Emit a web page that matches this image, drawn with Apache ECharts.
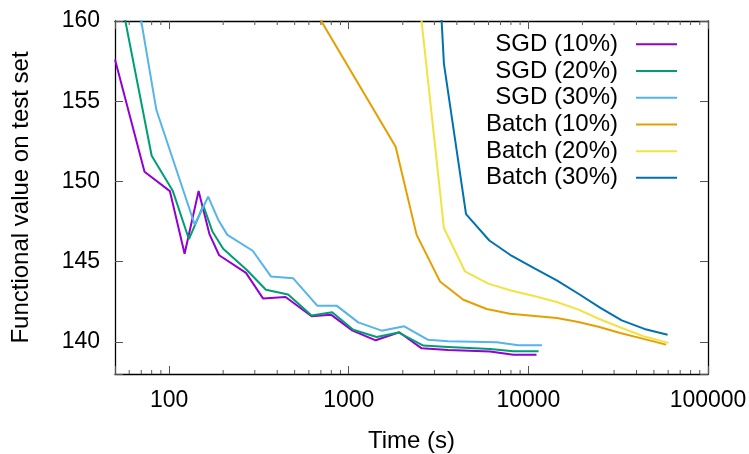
<!DOCTYPE html>
<html>
<head>
<meta charset="utf-8">
<script src="https://cdn.jsdelivr.net/npm/echarts@6/dist/echarts.min.js"></script>
<style>
html,body{margin:0;padding:0;background:#fff;}
#chart{width:749px;height:454px;}
</style>
</head>
<body>
<div id="chart"></div>
<script>
// ---- data (time in seconds, functional value) ----
const seriesNames = ['SGD (10%)', 'SGD (20%)', 'SGD (30%)', 'Batch (10%)', 'Batch (20%)', 'Batch (30%)'];
const seriesColors = ['#9400d3', '#009e73', '#56b4e9', '#e69f00', '#f0e442', '#0072b2'];

const sgd10T = [50, 73, 101, 122, 146, 168, 190, 268, 334, 445, 621, 796, 1051, 1413, 1911, 2547, 3581, 6117, 8250, 11100];
const sgd10V = [157.6, 150.6, 149.4, 145.5, 149.4, 146.7, 145.4, 144.3, 142.7, 142.8, 141.6, 141.7, 140.7, 140.1, 140.6, 139.6, 139.5, 139.4, 139.2, 139.2];

const sgd20T = [50, 80, 105, 129, 155, 174, 200, 270, 346, 460, 621, 809, 1059, 1430, 1900, 2600, 3581, 6117, 8250, 11400];
const sgd20V = [163.3, 151.6, 149.4, 146.4, 148.5, 146.9, 145.8, 144.5, 143.25, 142.95, 141.65, 141.85, 140.76, 140.31, 140.58, 139.77, 139.69, 139.56, 139.42, 139.42];

const sgd30T = [50, 85, 139, 165, 188, 211, 292, 369, 491, 668, 856, 1130, 1525, 2037, 2752, 3581, 6670, 8790, 11900];
const sgd30V = [169.6, 154.45, 147.3, 149.05, 147.6, 146.67, 145.68, 144.08, 143.96, 142.26, 142.26, 141.22, 140.7, 140.97, 140.14, 140.04, 139.98, 139.79, 139.79];

const batch10T = [600, 1825, 2388, 3221, 4345, 5865, 7907, 14390, 19000, 24860, 32430, 43750, 58490];
const batch10V = [161.3, 152.16, 146.67, 143.77, 142.63, 142.05, 141.76, 141.49, 141.24, 140.93, 140.56, 140.19, 139.83];

const batch20T = [2450, 3388, 4436, 5985, 8080, 10900, 14390, 19000, 24860, 33110, 43750, 60250];
const batch20V = [161.7, 147.1, 144.4, 143.63, 143.19, 142.84, 142.49, 142.01, 141.43, 140.87, 140.35, 139.94];

const batch30T = [3250, 3388, 4498, 6064, 7907, 10760, 14390, 19000, 25310, 33110, 44260, 59570];
const batch30V = [161.1, 157.35, 147.96, 146.32, 145.43, 144.6, 143.83, 143.0, 142.11, 141.34, 140.81, 140.45];

const allT = [sgd10T, sgd20T, sgd30T, batch10T, batch20T, batch30T];
const allV = [sgd10V, sgd20V, sgd30V, batch10V, batch20V, batch30V];

// axis ranges / ticks
const xMin = 50, xMax = 100000;
const yMin = 138, yMax = 160;
const minorTickFactors = [2, 3, 4, 5, 6, 7, 8, 9];
const decades = [10, 100, 1000, 10000];

const minorTicks = [];
decades.forEach(d => minorTickFactors.forEach(f => { const v = d * f; if (v > xMin && v < xMax) minorTicks.push(v); }));

const FONT = '"Liberation Sans", Arial, sans-serif';
const tickColor = '#555';

const isPow10 = v => Math.abs(Math.log10(v) - Math.round(Math.log10(v))) < 1e-6;

const lineSeries = seriesNames.map((name, i) => ({
  name: name,
  type: 'line',
  xAxisIndex: 0,
  yAxisIndex: 0,
  data: allT[i].map((t, k) => [t, allV[i][k]]),
  showSymbol: false,
  symbol: 'none',
  lineStyle: { color: seriesColors[i], width: 2 },
  itemStyle: { color: seriesColors[i] },
  clip: true,
  animation: false,
  z: 3
}));

const minorSeries = {
  type: 'custom',
  xAxisIndex: 0,
  yAxisIndex: 0,
  silent: true,
  clip: false,
  animation: false,
  data: minorTicks.map(v => [v, yMin]),
  renderItem: function (params, api) {
    const pb = api.coord([api.value(0), yMin]);
    const pt = api.coord([api.value(0), yMax]);
    return {
      type: 'group',
      children: [
        { type: 'line', shape: { x1: pb[0], y1: pb[1], x2: pb[0], y2: pb[1] - 4 }, style: { stroke: tickColor, lineWidth: 1 } },
        { type: 'line', shape: { x1: pt[0], y1: pt[1], x2: pt[0], y2: pt[1] + 4 }, style: { stroke: tickColor, lineWidth: 1 } }
      ]
    };
  },
  z: 2
};

const xAxisBase = {
  type: 'log',
  logBase: 10,
  min: xMin,
  max: xMax,
  gridIndex: 0,
  splitLine: { show: false },
  axisLine: { show: true, onZero: false, lineStyle: { color: '#000', width: 1.3 } },
  axisTick: { show: true, inside: true, length: 8, lineStyle: { color: tickColor, width: 1 } }
};

const yAxisBase = {
  type: 'value',
  min: yMin,
  max: yMax,
  gridIndex: 0,
  splitNumber: 5,
  splitLine: { show: false },
  axisLine: { show: true, onZero: false, lineStyle: { color: '#000', width: 1.3 } },
  axisTick: { show: true, inside: true, length: 8, lineStyle: { color: tickColor, width: 1 } }
};

const option = {
  backgroundColor: '#fff',
  animation: false,
  textStyle: { fontFamily: FONT },
  grid: { left: 115, top: 21, right: 41, bottom: 80, containLabel: false, outerBoundsMode: 'none' },
  legend: {
    data: seriesNames,
    orient: 'vertical',
    right: 67,
    top: 26,
    align: 'right',
    itemGap: 0,
    itemWidth: 41,
    itemHeight: 2,
    icon: 'rect',
    selectedMode: false,
    textStyle: {
      fontFamily: FONT, fontSize: 24, color: '#000',
      width: 134, align: 'right', lineHeight: 26.7,
      padding: [0, 13, 0, 0]
    }
  },
  xAxis: [
    Object.assign({}, xAxisBase, {
      position: 'bottom',
      name: 'Time (s)',
      nameLocation: 'middle',
      nameGap: 55,
      nameTextStyle: { fontFamily: FONT, fontSize: 24, color: '#000' },
      axisLabel: {
        show: true, margin: 15, fontFamily: FONT, fontSize: 23, color: '#000',
        formatter: v => (isPow10(v) ? String(Math.round(v)) : '')
      }
    }),
    Object.assign({}, xAxisBase, {
      position: 'top',
      axisLabel: { show: false }
    })
  ],
  yAxis: [
    Object.assign({}, yAxisBase, {
      position: 'left',
      name: 'Functional value on test set',
      nameLocation: 'middle',
      nameGap: 82,
      nameTextStyle: { fontFamily: FONT, fontSize: 24, color: '#000' },
      axisLabel: {
        show: true, margin: 15, fontFamily: FONT, fontSize: 23, color: '#000',
        formatter: v => (v % 5 === 0 ? String(v) : '')
      }
    }),
    Object.assign({}, yAxisBase, {
      position: 'right',
      axisLabel: { show: false }
    })
  ],
  series: lineSeries.concat([minorSeries])
};

const chart = echarts.init(document.getElementById('chart'), null, { renderer: 'canvas' });
chart.setOption(option);
</script>
</body>
</html>
